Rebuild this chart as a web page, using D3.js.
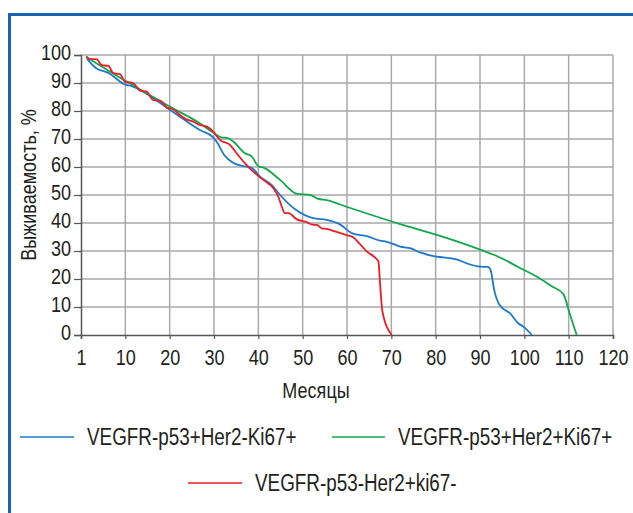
<!DOCTYPE html>
<html>
<head>
<meta charset="utf-8">
<script src="https://cdn.jsdelivr.net/npm/d3@7"></script>
<style>
  body { margin: 0; background: #fff; }
  text { font-family: "Liberation Sans", Arial, sans-serif; fill: #231f20; }
</style>
</head>
<body>
<script>
var svgWidth = 633;
var svgHeight = 513;

// data: [month, survival %]
var blueName = "VEGFR-p53+Her2-Ki67+";
var blueData = [[1.3, 98.8], [3.5, 95.2], [4.7, 94.4], [5.8, 93.9], [9.9, 89.5], [11.4, 88.9],
  [20.1, 80.4], [26.8, 73.2], [29.8, 70.6], [30.6, 69], [32.3, 64.3], [34.2, 61.6], [36.6, 60.3],
  [38.3, 59.9], [40.4, 56.5], [43, 53.6], [44.9, 50], [48.3, 44.9], [52.4, 41.7], [55.4, 41.1],
  [58.4, 39.5], [61.2, 36.3], [64.5, 35.3], [67.4, 33.7], [69, 33.3], [72, 31.6], [74.2, 31],
  [76.5, 29.5], [79.5, 28.2], [81.7, 27.7], [84.7, 27], [87, 25.6], [90, 24.4], [91.8, 24.3],
  [92.4, 23.2], [93.2, 16.1], [94.5, 10.5], [96.8, 7.7], [98.6, 4.2], [99.8, 3], [101.7, 0]];

var greenName = "VEGFR-p53+Her2+Ki67+";
var greenData = [[1.1, 99.4], [10.3, 90.5], [20.1, 81.5], [26.8, 75.6], [29.8, 72.3], [31.7, 70.6],
  [33, 70.4], [34.4, 69], [37, 64.9], [38.5, 63.8], [40, 60.3], [41.3, 59.7], [44.9, 55.4],
  [48.7, 50.4], [51.7, 50], [53.5, 48.6], [55.4, 48.2], [59.9, 45.8], [72, 39.6], [81, 35.4],
  [90.2, 30.4], [93.8, 28.2], [98.6, 24.3], [103.5, 20.2], [106.2, 17.4], [108.8, 14.6],
  [110.3, 7.3], [111.8, 0]];

var redName = "VEGFR-p53-Her2+ki67-";
var redData = [[1.3, 99.4], [2, 98.5], [3.5, 98.5], [4.7, 96.4], [6.2, 96.1], [7.3, 93.5],
  [8.8, 93.2], [9.9, 90.5], [11.8, 89.9], [13.3, 87.3], [14.8, 86.9], [16.3, 83.9], [17.8, 83.7],
  [19.3, 81.3], [20.8, 80.6], [22.3, 78.6], [23.8, 77], [25.3, 76.2], [26.8, 75], [28.4, 74.4],
  [29.8, 72.6], [31.4, 69.6], [33.6, 67.9], [35.1, 64.9], [37, 61.3], [39.3, 57.7], [41.1, 55.4],
  [43.4, 52.4], [44.5, 49.4], [45.3, 45.8], [46, 43.5], [46.8, 43.5], [48.7, 41.3], [50.9, 40.3],
  [52.2, 39.4], [53.2, 39.3], [54.3, 38.1], [55.4, 37.9], [57.3, 37], [59.9, 35.7], [61.4, 34.9],
  [62.9, 32.5], [64.5, 29.8], [66.3, 27.7], [67.1, 26.2], [67.4, 19.6], [68, 8.3], [70.1, 0]];

var xTicks = [0, 10, 20, 30, 40, 50, 60, 70, 80, 90, 100, 110, 120];
var xTickLabels = ["1", "10", "20", "30", "40", "50", "60", "70", "80", "90", "100", "110", "120"];
var yTicks = [0, 10, 20, 30, 40, 50, 60, 70, 80, 90, 100];

var margin = { top: 55, right: 20, bottom: 178, left: 81 };
var width = 613 - margin.left;
var height = 335 - margin.top;

// the original font is a narrow Arial, so squeeze Liberation Sans
var squeeze = 0.82;

var svg = d3.select("body")
  .append("svg")
  .attr("width", svgWidth)
  .attr("height", svgHeight);

// blue frame (only left and top visible)
svg.append("path")
  .attr("d", "M9.5,513 L9.5,14.5 L633,14.5")
  .attr("fill", "none")
  .attr("stroke", "#1763b3")
  .attr("stroke-width", 3);

var chartGroup = svg.append("g")
  .attr("transform", `translate(${margin.left}, ${margin.top})`);

var x = d3.scaleLinear().domain([0, 120]).range([0, width]);
var y = d3.scaleLinear().domain([0, 100]).range([height, 0]);

// grid
chartGroup.append("g")
  .selectAll("line")
  .data(yTicks.filter(d => d > 0))
  .enter().append("line")
  .attr("x1", 0).attr("x2", width)
  .attr("y1", d => y(d)).attr("y2", d => y(d))
  .attr("stroke", "#a9a9a9").attr("stroke-width", 1.5);

chartGroup.append("g")
  .selectAll("line")
  .data(xTicks.filter(d => d > 0))
  .enter().append("line")
  .attr("x1", d => x(d)).attr("x2", d => x(d))
  .attr("y1", 0).attr("y2", height)
  .attr("stroke", "#a9a9a9").attr("stroke-width", 1.5);

// axes
var bottomAxis = d3.axisBottom(x)
  .tickValues(xTicks)
  .tickFormat((d, i) => xTickLabels[i])
  .tickSize(4)
  .tickPadding(10);

var leftAxis = d3.axisLeft(y)
  .tickValues(yTicks)
  .tickSize(7);

var xAxis = chartGroup.append("g")
  .attr("transform", `translate(0, ${height})`)
  .call(bottomAxis);

var yAxis = chartGroup.append("g")
  .call(leftAxis);

[xAxis, yAxis].forEach(function (ax) {
  ax.select(".domain").attr("stroke", "#555").attr("stroke-width", 1.5);
  ax.selectAll(".tick line").attr("stroke", "#555").attr("stroke-width", 1.2);
  ax.selectAll(".tick text")
    .style("font-family", "'Liberation Sans', Arial, sans-serif")
    .style("font-size", "22px")
    .attr("fill", "#231f20")
    .attr("transform", `scale(${squeeze},1)`);
});
yAxis.selectAll(".tick text")
  .attr("x", -10 / squeeze)
  .attr("dy", "0.22em");

// lines
var line = d3.line()
  .x(d => x(d[0]))
  .y(d => y(d[1]))
  .curve(d3.curveMonotoneX);

var series = [
  { name: blueName, data: blueData, color: "#1b7ad0" },
  { name: greenName, data: greenData, color: "#11a84c" },
  { name: redName, data: redData, color: "#ee1c24" }
];

chartGroup.selectAll("path.series")
  .data(series)
  .enter().append("path")
  .attr("class", "series")
  .attr("d", d => line(d.data))
  .attr("fill", "none")
  .attr("stroke", d => d.color)
  .attr("stroke-width", 1.8);

// axis titles
svg.append("text")
  .attr("transform", `translate(316, 398) scale(${squeeze},1)`)
  .attr("text-anchor", "middle")
  .style("font-size", "22px")
  .text("Месяцы");

svg.append("text")
  .attr("transform", `translate(36, 185) rotate(-90) scale(${squeeze},1)`)
  .attr("text-anchor", "middle")
  .style("font-size", "22px")
  .text("Выживаемость, %");

// legend
var legendPos = [
  { x1: 20, x2: 74, y: 437, tx: 87 },
  { x1: 332, x2: 385, y: 437, tx: 398 },
  { x1: 188, x2: 242, y: 483, tx: 255 }
];

var legend = svg.selectAll("g.legend")
  .data(series)
  .enter().append("g")
  .attr("class", "legend");

legend.append("line")
  .attr("x1", (d, i) => legendPos[i].x1)
  .attr("x2", (d, i) => legendPos[i].x2)
  .attr("y1", (d, i) => legendPos[i].y)
  .attr("y2", (d, i) => legendPos[i].y)
  .attr("stroke", d => d.color)
  .attr("stroke-width", 1.5);

legend.append("text")
  .attr("transform", (d, i) => `translate(${legendPos[i].tx}, ${legendPos[i].y}) scale(${squeeze},1)`)
  .attr("dy", "0.35em")
  .style("font-size", "23px")
  .text(d => d.name);
</script>
</body>
</html>
